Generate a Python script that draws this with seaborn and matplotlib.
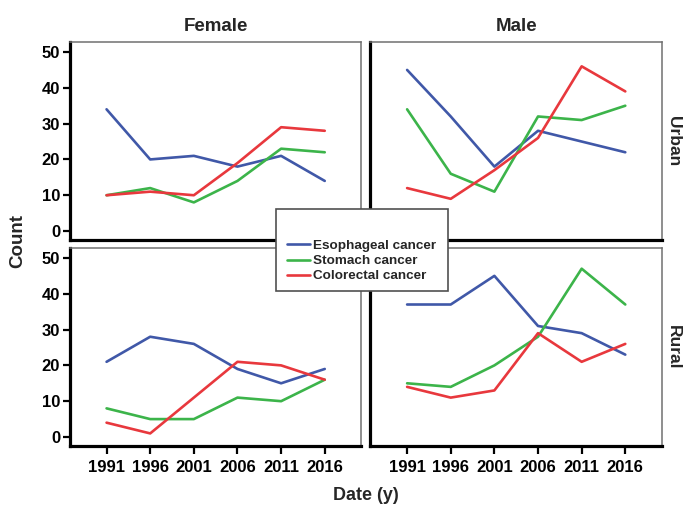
import matplotlib
matplotlib.use("Agg")
import matplotlib.pyplot as plt
from matplotlib.lines import Line2D
from matplotlib.patches import Rectangle
import seaborn as sns
import pandas as pd

years = [1991, 1996, 2001, 2006, 2011, 2016]
cancers = ["Esophageal cancer", "Stomach cancer", "Colorectal cancer"]
sexes = ["Female", "Male"]
areas = ["Urban", "Rural"]

female_urban_eso = [34, 20, 21, 18, 21, 14]
female_urban_sto = [10, 12, 8, 14, 23, 22]
female_urban_col = [10, 11, 10, 19, 29, 28]

male_urban_eso = [45, 32, 18, 28, 25, 22]
male_urban_sto = [34, 16, 11, 32, 31, 35]
male_urban_col = [12, 9, 17, 26, 46, 39]

female_rural_eso = [21, 28, 26, 19, 15, 19]
female_rural_sto = [8, 5, 5, 11, 10, 16]
female_rural_col = [4, 1, 11, 21, 20, 16]

male_rural_eso = [37, 37, 45, 31, 29, 23]
male_rural_sto = [15, 14, 20, 28, 47, 37]
male_rural_col = [14, 11, 13, 29, 21, 26]

series = {
    ("Urban", "Female"): [female_urban_eso, female_urban_sto, female_urban_col],
    ("Urban", "Male"): [male_urban_eso, male_urban_sto, male_urban_col],
    ("Rural", "Female"): [female_rural_eso, female_rural_sto, female_rural_col],
    ("Rural", "Male"): [male_rural_eso, male_rural_sto, male_rural_col],
}

rows = []
for (area, sex), vals in series.items():
    for cname, v in zip(cancers, vals):
        for y, c in zip(years, v):
            rows.append({"Area": area, "Sex": sex, "Cancer": cname, "Year": y, "Count": c})
df = pd.DataFrame(rows)

palette = {"Esophageal cancer": "#4058a8", "Stomach cancer": "#3cb44a", "Colorectal cancer": "#e8383d"}

sns.set_style("white")
plt.rcParams["font.family"] = ["Liberation Sans", "DejaVu Sans"]
plt.rcParams["font.weight"] = "bold"

fig, axes = plt.subplots(2, 2, figsize=(6.99, 5.12), dpi=100)
fig.subplots_adjust(left=0.100, right=0.947, top=0.918, bottom=0.129, wspace=0.031, hspace=0.040)

for i, area in enumerate(areas):
    for j, sex in enumerate(sexes):
        ax = axes[i, j]
        sub = df[(df["Area"] == area) & (df["Sex"] == sex)]
        sns.lineplot(data=sub, x="Year", y="Count", hue="Cancer", hue_order=cancers,
                     palette=palette, linewidth=1.9, legend=False, ax=ax)
        ax.set_xlim(1986.8, 2020.2)
        ax.set_ylim(-2.5, 52.8)
        ax.set_xlabel("")
        ax.set_ylabel("")
        for side in ["left", "bottom"]:
            ax.spines[side].set_color("black")
            ax.spines[side].set_linewidth(2.3)
        for side in ["top", "right"]:
            ax.spines[side].set_color("#707070")
            ax.spines[side].set_linewidth(1.1)
        ax.set_xticks(years)
        ax.set_yticks([0, 10, 20, 30, 40, 50])
        ax.tick_params(axis="both", which="both", direction="out", length=5, width=1.6,
                       color="black", labelsize=12, labelcolor="black")
        if j == 1:
            ax.tick_params(axis="y", left=False, labelleft=False)
        else:
            ax.tick_params(axis="y", left=True, labelleft=True, pad=2)
        if i == 0:
            ax.tick_params(axis="x", bottom=False, labelbottom=False)
            ax.set_title(sex, fontsize=13.5, fontweight="bold", pad=8)
        else:
            ax.tick_params(axis="x", bottom=True, labelbottom=True, length=6, pad=4)
        for lab in ax.get_xticklabels() + ax.get_yticklabels():
            lab.set_fontweight("bold")
        if j == 1:
            ax.text(1.04, 0.5, area, transform=ax.transAxes, rotation=270,
                    ha="center", va="center", fontsize=12.5, fontweight="bold")

fig.text(18 / 699, 1 - 241 / 512, "Count", rotation=90, ha="center", va="center",
         fontsize=13.5, fontweight="bold")
fig.text(366 / 699, 1 - 496 / 512, "Date (y)", ha="center", va="center",
         fontsize=13, fontweight="bold")

# legend box
rect = Rectangle((276 / 699, 1 - 291 / 512), (448 - 276) / 699, (291 - 209) / 512,
                 transform=fig.transFigure, facecolor="white", edgecolor="#505050",
                 linewidth=1.2, zorder=4)
fig.patches.append(rect)
handles = [Line2D([0], [0], color=palette[c], linewidth=1.9) for c in cancers]
fig.legend(handles, cancers, loc="center left", bbox_to_anchor=(287 / 699, 1 - 261 / 512),
           frameon=False, borderpad=0, borderaxespad=0, handlelength=1.7,
           handletextpad=0.2, labelspacing=0.2, prop={"size": 9.7, "weight": "bold"})

fig.savefig("out.png", dpi=100)
